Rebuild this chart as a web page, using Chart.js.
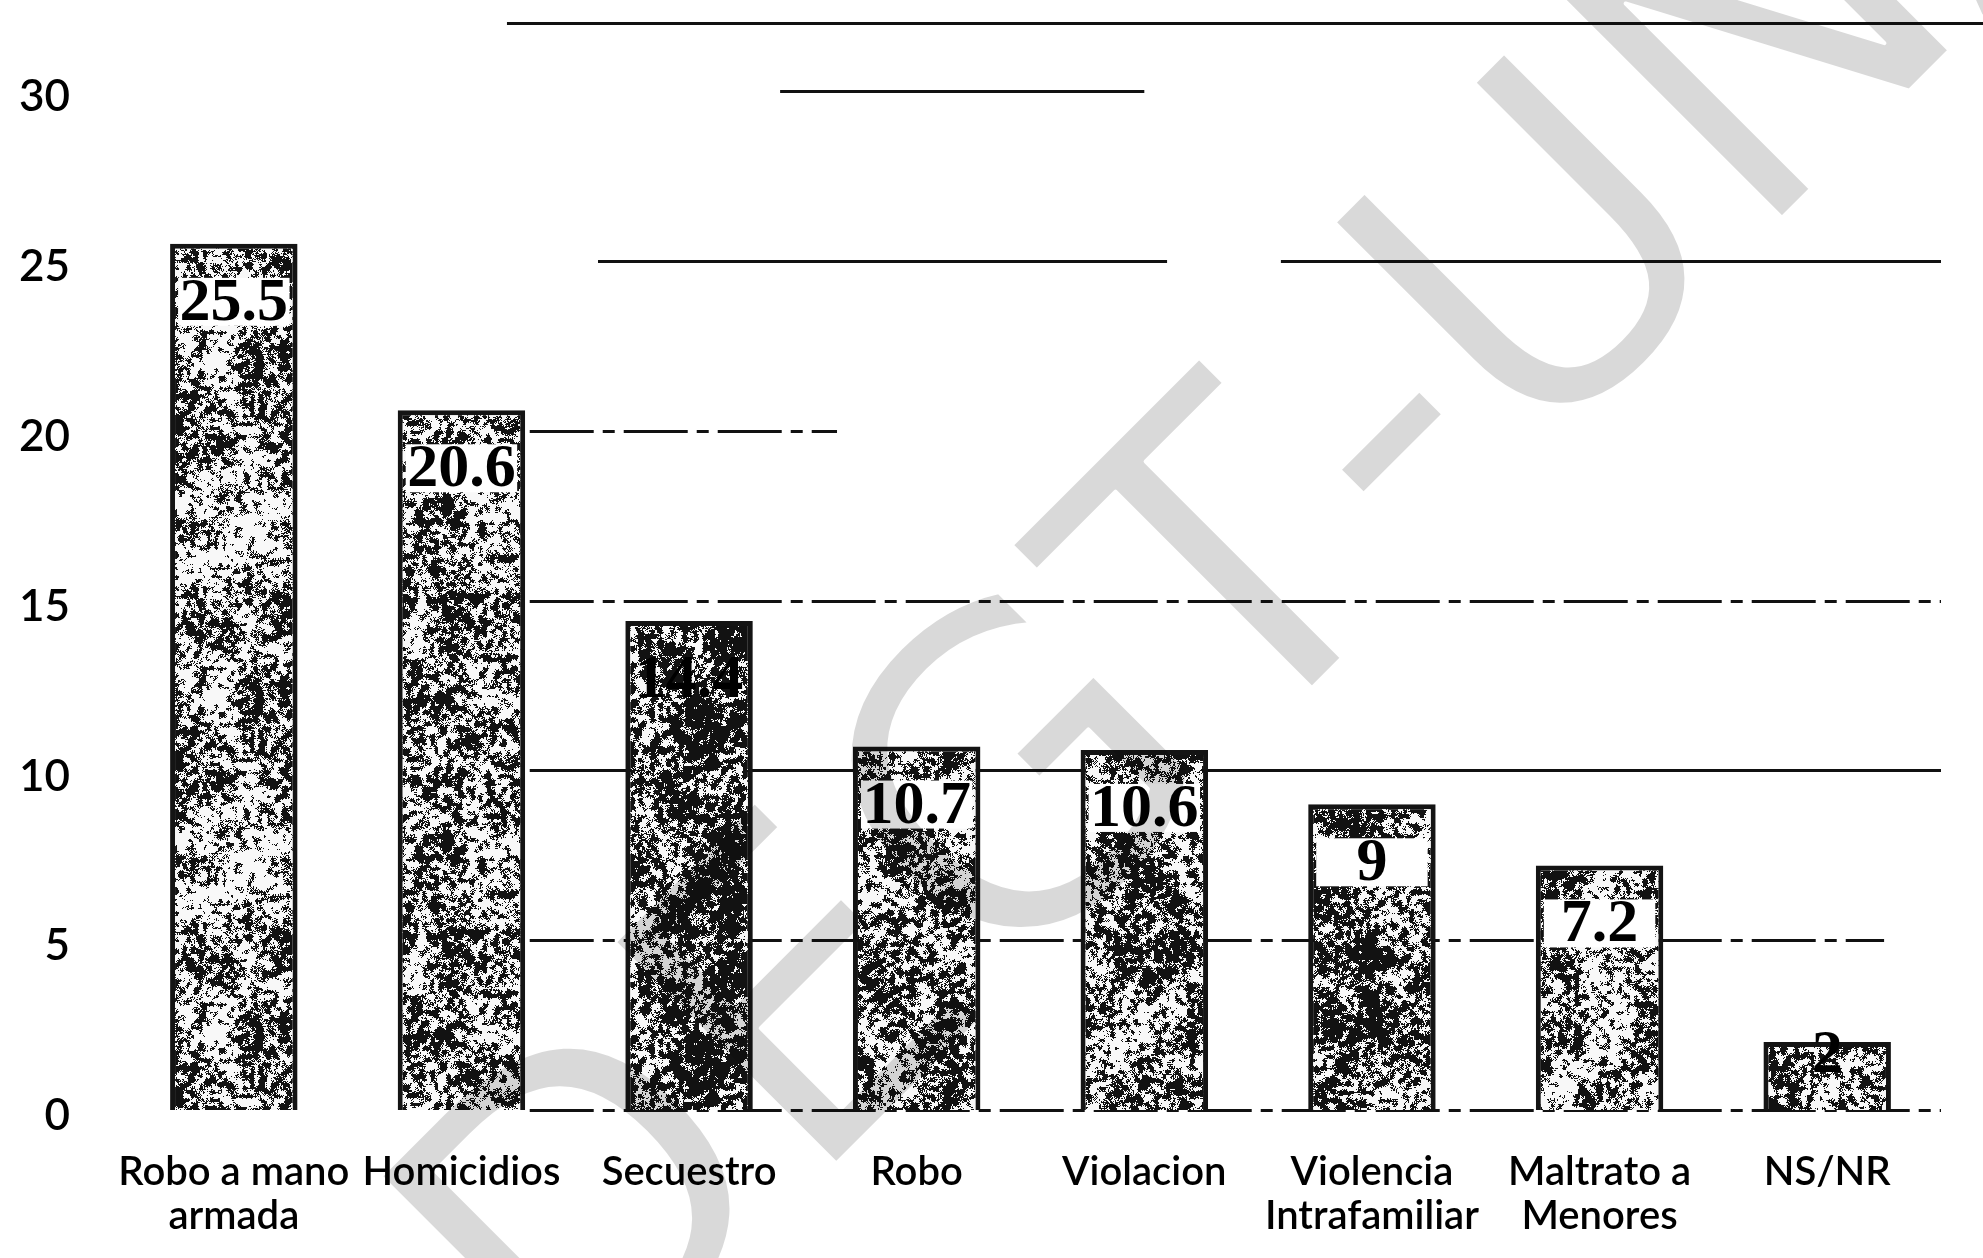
<!DOCTYPE html>
<html>
<head>
<meta charset="utf-8">
<script src="https://cdn.jsdelivr.net/npm/chart.js@4.4.1/dist/chart.umd.min.js"></script>
<style>
  html, body { margin: 0; padding: 0; background: #fff; }
  #wrap { width: 1983px; height: 1258px; position: relative; }
</style>
</head>
<body>
<div id="wrap"><canvas id="myChart"></canvas></div>
<script>
const categories = [["Robo a mano", "armada"], "Homicidios", "Secuestro", "Robo", "Violacion", ["Violencia", "Intrafamiliar"], ["Maltrato a", "Menores"], "NS/NR"];
const values = [25.5, 20.6, 14.4, 10.7, 10.6, 9, 7.2, 2];
const yTicks = [0, 5, 10, 15, 20, 25, 30];

// how much black ink each bar's grain carries
const inkDensity = [0.48, 0.5, 0.57, 0.5, 0.52, 0.54, 0.5, 0.5];
// white box behind the value label
const labelBox = [true, true, false, true, true, true, true, false];

// pieces of each horizontal rule that are still printed, in category units
const ruleSpans = {
    32: [[1.2, 8.3]],
    30: [[2.4, 4.0]],
    25: [[1.6, 4.1], [4.6, 7.5]],
    20: [[1.3, 2.65]],
    15: [[1.3, 7.5]],
    10: [[1.3, 7.5]],
    5: [[1.3, 7.25]],
    0: [[1.3, 7.5]]
};
const solidRules = [32, 30, 25, 10];

function hash(x, y, seed) {
    let h = Math.imul(x, 374761393) + Math.imul(y, 668265263) + Math.imul(seed, 982451653);
    h = Math.imul(h ^ (h >>> 13), 1274126177);
    h ^= h >>> 16;
    return (h >>> 0) / 4294967296;
}

// bilinear value noise that wraps on the tile size
function smooth(x, y, cell, w, h, seed) {
    const nx = w / cell, ny = h / cell;
    const gx = Math.floor(x / cell), gy = Math.floor(y / cell);
    const fx = x / cell - gx, fy = y / cell - gy;
    const a = hash(gx % nx, gy % ny, seed), b = hash((gx + 1) % nx, gy % ny, seed);
    const c = hash(gx % nx, (gy + 1) % ny, seed), d = hash((gx + 1) % nx, (gy + 1) % ny, seed);
    return (a * (1 - fx) + b * fx) * (1 - fy) + (c * (1 - fx) + d * fx) * fy;
}

// photocopy-like black/white grain used to fill the bars
function makeGrain(ink, seed) {
    const w = 168, h = 336;
    const c = document.createElement("canvas");
    c.width = w;
    c.height = h;
    const g = c.getContext("2d");
    const img = g.createImageData(w, h);
    for (let y = 0; y < h; y++) {
        for (let x = 0; x < w; x++) {
            const v = 0.5 * smooth(x, y, 4, w, h, seed)
                + 0.22 * hash(x, y, seed + 7)
                + 0.28 * smooth(x, y, 28, w, h, seed + 3);
            const k = v < ink ? 18 : 248;
            const i = (y * w + x) * 4;
            img.data[i] = img.data[i + 1] = img.data[i + 2] = k;
            img.data[i + 3] = 255;
        }
    }
    g.putImageData(img, 0, 0);
    return g.createPattern(c, "repeat");
}

const rulesPlugin = {
    id: "rules",
    beforeDatasetsDraw(chart) {
        const { ctx, scales: { x, y } } = chart;
        ctx.save();
        ctx.strokeStyle = "#111";
        ctx.lineWidth = 3;
        Object.keys(ruleSpans).forEach((key) => {
            const v = Number(key);
            const py = Math.round(y.getPixelForValue(v)) + 0.5;
            ctx.setLineDash(solidRules.includes(v) ? [] : [64, 9, 12, 9]);
            ruleSpans[key].forEach(([a, b]) => {
                ctx.beginPath();
                ctx.moveTo(x.getPixelForValue(a), py);
                ctx.lineTo(Math.min(x.getPixelForValue(b), chart.width), py);
                ctx.stroke();
            });
        });
        ctx.restore();
    }
};

const valueLabels = {
    id: "valueLabels",
    afterDatasetsDraw(chart) {
        const { ctx } = chart;
        const meta = chart.getDatasetMeta(0);
        ctx.save();
        ctx.font = "bold 62px 'Liberation Serif'";
        ctx.textAlign = "center";
        ctx.textBaseline = "middle";
        meta.data.forEach((bar, i) => {
            const h = bar.base - bar.y;
            const cy = bar.y + (h > 120 ? 58 : 12);
            if (labelBox[i]) {
                ctx.fillStyle = "#fff";
                ctx.fillRect(bar.x - bar.width / 2 + 8, cy - 24, bar.width - 16, 48);
            }
            ctx.fillStyle = "#000";
            ctx.fillText(String(values[i]), bar.x, cy + 2);
        });
        ctx.restore();
    }
};

// big diagonal stamp across the page, thinned and multiplied over the chart
const watermark = {
    id: "watermark",
    afterDraw(chart) {
        const text = "DEGT-UNAM";
        const sheet = document.createElement("canvas");
        sheet.width = chart.width;
        sheet.height = chart.height;
        const g = sheet.getContext("2d");
        g.font = "430px 'DejaVu Sans'";
        g.fontKerning = "none";
        const lead = g.measureText("DEG").width + g.measureText("T").width / 2;
        g.translate(1327, 673);
        g.rotate(-Math.PI / 4);
        g.fillStyle = "#d9d9d9";
        g.fillText(text, -lead, 0);
        g.globalCompositeOperation = "destination-out";
        g.lineWidth = 4;
        g.lineJoin = "round";
        g.strokeText(text, -lead, 0);

        const { ctx } = chart;
        ctx.save();
        ctx.globalCompositeOperation = "multiply";
        ctx.drawImage(sheet, 0, 0);
        ctx.restore();
    }
};

function plotChart() {
    const ctx = document.getElementById("myChart").getContext("2d");
    const grains = inkDensity.map((d, i) => makeGrain(d, i + 1));

    new Chart(ctx, {
        type: "bar",
        data: {
            labels: categories,
            datasets: [{
                data: values,
                backgroundColor: grains,
                borderColor: "#141414",
                borderWidth: 5,
                barPercentage: 0.56,
                categoryPercentage: 1
            }]
        },
        options: {
            responsive: true,
            maintainAspectRatio: false,
            animation: false,
            layout: { padding: { top: 91, right: 42, bottom: 0, left: 0 } },
            plugins: { legend: { display: false }, tooltip: { enabled: false } },
            scales: {
                x: {
                    grid: { display: false, drawTicks: false },
                    border: { display: false },
                    ticks: {
                        color: "#000",
                        font: { family: "Lato", size: 40, weight: 600, lineHeight: 1.1 },
                        padding: 40,
                        maxRotation: 0,
                        autoSkip: false
                    },
                    afterFit(s) { s.height = 148; }
                },
                y: {
                    min: 0,
                    max: 30,
                    grid: { display: false, drawTicks: false },
                    border: { display: false },
                    ticks: {
                        color: "#000",
                        font: { family: "Lato", size: 44, weight: 600 },
                        padding: 50,
                        labelOffset: 6
                    },
                    afterBuildTicks(s) { s.ticks = yTicks.map((v) => ({ value: v })); },
                    afterFit(s) { s.width = 120; }
                }
            }
        },
        plugins: [rulesPlugin, valueLabels, watermark]
    });
}

plotChart();
</script>
</body>
</html>
